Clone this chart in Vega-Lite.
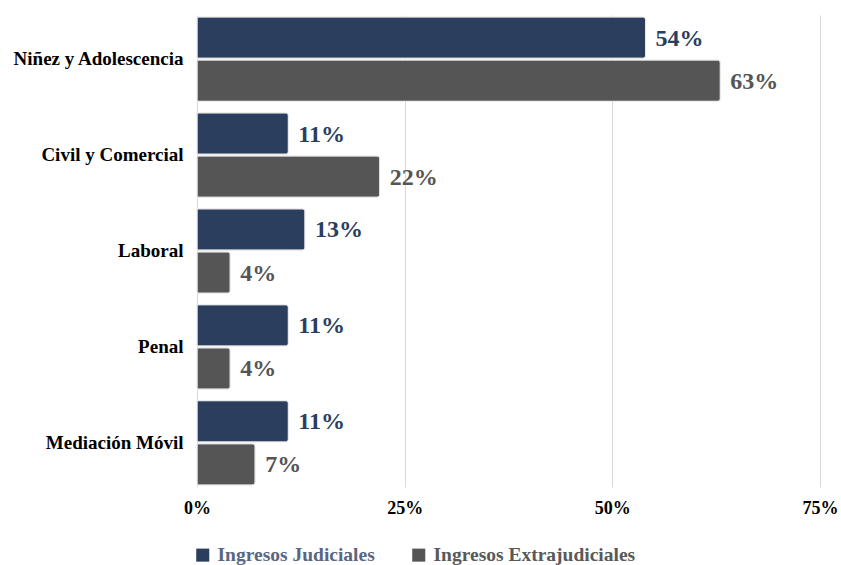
{
  "$schema": "https://vega.github.io/schema/vega-lite/v6.json",
  "width": 623,
  "height": 472,
  "autosize": {"type": "none"},
  "padding": {"left": 197, "top": 15, "right": 21, "bottom": 78},
  "background": "white",
  "config": {
    "view": {"stroke": null},
    "font": "Liberation Serif, Times New Roman, serif",
    "axis": {"labelFont": "Liberation Serif, Times New Roman, serif", "labelFontWeight": "bold"},
    "legend": {"labelFont": "Liberation Serif, Times New Roman, serif", "labelFontWeight": "bold"}
  },
  "data": {
    "values": [
      {"area": "Niñez y Adolescencia", "tipo": "Ingresos Judiciales", "valor": 54},
      {"area": "Niñez y Adolescencia", "tipo": "Ingresos Extrajudiciales", "valor": 63},
      {"area": "Civil y Comercial", "tipo": "Ingresos Judiciales", "valor": 11},
      {"area": "Civil y Comercial", "tipo": "Ingresos Extrajudiciales", "valor": 22},
      {"area": "Laboral", "tipo": "Ingresos Judiciales", "valor": 13},
      {"area": "Laboral", "tipo": "Ingresos Extrajudiciales", "valor": 4},
      {"area": "Penal", "tipo": "Ingresos Judiciales", "valor": 11},
      {"area": "Penal", "tipo": "Ingresos Extrajudiciales", "valor": 4},
      {"area": "Mediación Móvil", "tipo": "Ingresos Judiciales", "valor": 11},
      {"area": "Mediación Móvil", "tipo": "Ingresos Extrajudiciales", "valor": 7}
    ]
  },
  "encoding": {
    "y": {
      "field": "area",
      "type": "nominal",
      "sort": ["Niñez y Adolescencia", "Civil y Comercial", "Laboral", "Penal", "Mediación Móvil"],
      "scale": {"paddingInner": 0.12, "paddingOuter": 0.02},
      "axis": {
        "title": null,
        "ticks": false,
        "domain": false,
        "labelFont": "Liberation Serif, Times New Roman, serif",
        "labelFontWeight": "bold",
        "labelFontSize": 19,
        "labelColor": "#000000",
        "labelPadding": 14,
        "labelLimit": 300
      }
    },
    "yOffset": {
      "field": "tipo",
      "type": "nominal",
      "sort": ["Ingresos Judiciales", "Ingresos Extrajudiciales"],
      "scale": {"paddingInner": 0.04}
    },
    "x": {
      "field": "valor",
      "type": "quantitative",
      "scale": {"domain": [0, 75], "nice": false},
      "axis": {
        "title": null,
        "values": [0, 25, 50, 75],
        "labelExpr": "datum.value + '%'",
        "labelFlush": false,
        "ticks": false,
        "domain": false,
        "grid": true,
        "gridColor": "#d9d9d9",
        "gridWidth": 1,
        "labelFont": "Liberation Serif, Times New Roman, serif",
        "labelFontWeight": "bold",
        "labelFontSize": 18,
        "labelColor": "#000000",
        "labelPadding": 12
      }
    }
  },
  "layer": [
    {
      "mark": {"type": "bar", "cornerRadiusEnd": 3, "stroke": "#e8e8e8", "strokeWidth": 1},
      "encoding": {
        "color": {
          "field": "tipo",
          "type": "nominal",
          "sort": ["Ingresos Judiciales", "Ingresos Extrajudiciales"],
          "scale": {
            "domain": ["Ingresos Judiciales", "Ingresos Extrajudiciales"],
            "range": ["#2b3e5e", "#555555"]
          },
          "legend": {
            "title": null,
            "orient": "none",
            "direction": "horizontal",
            "legendX": -4,
            "legendY": 530,
            "symbolType": "square",
            "symbolSize": 170,
            "symbolStrokeWidth": 0,
            "labelFont": "Liberation Serif, Times New Roman, serif",
            "labelFontWeight": "bold",
            "labelFontSize": 19.5,
            "labelColor": {"expr": "datum.value == 'Ingresos Judiciales' ? '#5a6681' : '#595959'"},
            "labelOffset": 5,
            "columnPadding": 34,
            "labelLimit": 400
          }
        }
      }
    },
    {
      "mark": {
        "type": "text",
        "align": "left",
        "baseline": "middle",
        "dx": 10,
        "dy": 1,
        "font": "Liberation Serif, Times New Roman, serif",
        "fontWeight": "bold",
        "fontSize": 24,
        "text": {"expr": "datum.valor + '%'"}
      },
      "encoding": {
        "color": {
          "field": "tipo",
          "type": "nominal",
          "scale": {
            "domain": ["Ingresos Judiciales", "Ingresos Extrajudiciales"],
            "range": ["#2b3e5e", "#555555"]
          },
          "legend": null
        }
      }
    }
  ]
}
